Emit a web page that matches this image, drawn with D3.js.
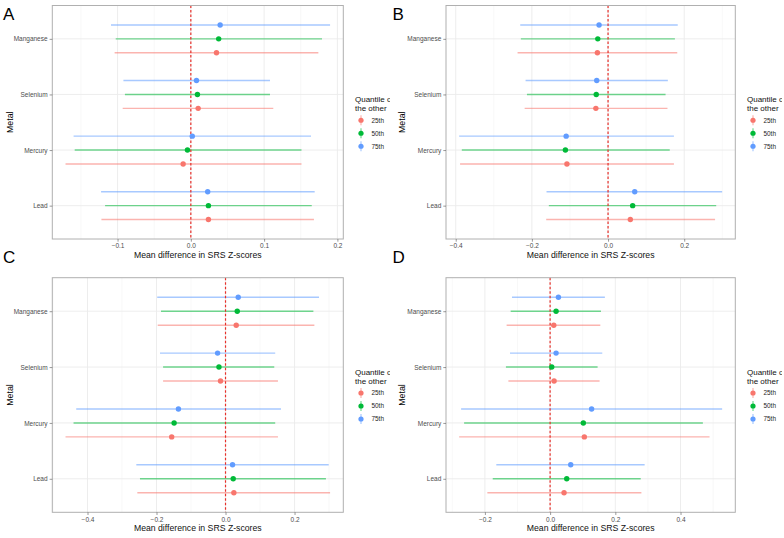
<!DOCTYPE html>
<html><head><meta charset="utf-8">
<script src="https://cdn.jsdelivr.net/npm/d3@7"></script>
<style>
html,body{margin:0;padding:0;background:#fff;}
svg{display:block;font-family:"Liberation Sans",Arial,Helvetica,sans-serif;}
</style></head>
<body>
<svg id="chart" width="784" height="538"></svg>
<script>
// Categories (bottom to top) and quantile groups
const metals = ["Lead", "Mercury", "Selenium", "Manganese"];
const quantiles = ["25th", "50th", "75th"];
const quantileColors = ["#F8766D", "#00BA38", "#619CFF"];
const panelLetters = ["A", "B", "C", "D"];

// Values ordered: Lead(25,50,75), Mercury(25,50,75), Selenium(25,50,75), Manganese(25,50,75)
const estA = [0.024, 0.024, 0.023, -0.0105, -0.0046, 0.002, 0.010, 0.009, 0.0077, 0.035, 0.038, 0.040];
const lowA = [-0.122, -0.117, -0.1225, -0.171, -0.1585, -0.160, -0.093, -0.090, -0.092, -0.104, -0.1025, -0.109];
const highA = [0.168, 0.165, 0.169, 0.151, 0.151, 0.164, 0.1125, 0.108, 0.108, 0.174, 0.179, 0.190];

const estB = [0.0585, 0.0646, 0.070, -0.108, -0.112, -0.110, -0.032, -0.031, -0.0297, -0.028, -0.027, -0.0236];
const lowB = [-0.1624, -0.1555, -0.1616, -0.3886, -0.384, -0.391, -0.219, -0.213, -0.2166, -0.2376, -0.229, -0.2306];
const highB = [0.281, 0.284, 0.2996, 0.173, 0.162, 0.173, 0.156, 0.151, 0.157, 0.1817, 0.1755, 0.183];

const estC = [0.0242, 0.0223, 0.0203, -0.156, -0.149, -0.1365, -0.0145, -0.019, -0.023, 0.031, 0.034, 0.0368];
const lowC = [-0.2556, -0.248, -0.2585, -0.4637, -0.4405, -0.4327, -0.181, -0.181, -0.190, -0.1965, -0.187, -0.198];
const highC = [0.303, 0.291, 0.299, 0.152, 0.144, 0.1607, 0.152, 0.1413, 0.144, 0.2575, 0.2546, 0.271];

const estD = [0.0428, 0.051, 0.0632, 0.105, 0.1019, 0.1273, 0.0122, 0.005, 0.0183, 0.0112, 0.0183, 0.0255];
const lowD = [-0.1925, -0.176, -0.165, -0.279, -0.2638, -0.273, -0.128, -0.1355, -0.123, -0.1334, -0.121, -0.117];
const highD = [0.280, 0.278, 0.290, 0.489, 0.4686, 0.5277, 0.1518, 0.1457, 0.160, 0.154, 0.156, 0.168];

const ticksA = [-0.1, 0.0, 0.1, 0.2];
const ticksB = [-0.4, -0.2, 0.0, 0.2];
const ticksC = [-0.4, -0.2, 0.0, 0.2];
const ticksD = [-0.2, 0.0, 0.2, 0.4];

const xTitle = "Mean difference in SRS Z-scores";
const yTitle = "Metal";
const legendTitle = ["Quantile of", "the other"];

// Layout
const panels = [
  {est: estA, low: lowA, high: highA, ticks: ticksA, ox: 0, oy: 0, x0: 52.3, x1: 343.3, y0: 5.5, y1: 239},
  {est: estB, low: lowB, high: highB, ticks: ticksB, ox: 392, oy: 0, x0: 54, x1: 343.3, y0: 5.5, y1: 239},
  {est: estC, low: lowC, high: highC, ticks: ticksC, ox: 0, oy: 269, x0: 52.3, x1: 343.3, y0: 8.7, y1: 243.3},
  {est: estD, low: lowD, high: highD, ticks: ticksD, ox: 392, oy: 269, x0: 54, x1: 343.3, y0: 8.7, y1: 243.3}
];

const svg = d3.select("#chart");
const defs = svg.append("defs");

panels.forEach((p, pi) => {
  const clipId = "clip" + pi;
  defs.append("clipPath").attr("id", clipId).append("rect")
    .attr("x", 0).attr("y", 0).attr("width", 390).attr("height", 269);

  const g = svg.append("g").attr("transform", `translate(${p.ox},${p.oy})`)
    .attr("clip-path", `url(#${clipId})`);

  const rows = [];
  metals.forEach((m, mi) => quantiles.forEach((q, qi) => {
    const k = mi * 3 + qi;
    rows.push({metal: m, q: q, qi: qi, est: p.est[k], low: p.low[k], high: p.high[k]});
  }));

  const mn = d3.min(rows, d => d.low), mx = d3.max(rows, d => d.high);
  const pad = (mx - mn) * 0.05;
  const x = d3.scaleLinear().domain([mn - pad, mx + pad]).range([p.x0, p.x1]);

  // discrete y with 0.6 expansion
  const y = d3.scalePoint().domain(metals.slice().reverse()).range([p.y0, p.y1]).padding(0.6);
  const dodge = (y.step()) * 0.25;
  const qOff = d3.scalePoint().domain(quantiles).range([dodge, -dodge]);

  // panel background
  g.append("rect").attr("x", p.x0).attr("y", p.y0).attr("width", p.x1 - p.x0).attr("height", p.y1 - p.y0)
    .attr("fill", "#fff");

  // minor gridlines
  const step = p.ticks[1] - p.ticks[0];
  const minors = [];
  for (let v = p.ticks[0] - step / 2; v <= x.domain()[1]; v += step) {
    if (v >= x.domain()[0]) minors.push(v);
  }
  g.append("g").selectAll("line").data(minors).join("line")
    .attr("x1", d => x(d)).attr("x2", d => x(d)).attr("y1", p.y0).attr("y2", p.y1)
    .attr("stroke", "#f3f3f3").attr("stroke-width", 0.6);
  // major gridlines
  g.append("g").selectAll("line").data(p.ticks).join("line")
    .attr("x1", d => x(d)).attr("x2", d => x(d)).attr("y1", p.y0).attr("y2", p.y1)
    .attr("stroke", "#ebebeb").attr("stroke-width", 0.9);
  g.append("g").selectAll("line").data(metals).join("line")
    .attr("x1", p.x0).attr("x2", p.x1).attr("y1", d => y(d)).attr("y2", d => y(d))
    .attr("stroke", "#ebebeb").attr("stroke-width", 0.9);

  // error bars
  g.append("g").selectAll("line").data(rows).join("line")
    .attr("x1", d => x(d.low)).attr("x2", d => x(d.high))
    .attr("y1", d => y(d.metal) + qOff(d.q)).attr("y2", d => y(d.metal) + qOff(d.q))
    .attr("stroke", d => quantileColors[d.qi]).attr("stroke-opacity", 0.55).attr("stroke-width", 1.4);

  // reference line at 0
  g.append("line").attr("x1", x(0)).attr("x2", x(0)).attr("y1", p.y0).attr("y2", p.y1)
    .attr("stroke", "#e8302a").attr("stroke-width", 1.2).attr("stroke-dasharray", "2.5,2");

  // points
  g.append("g").selectAll("circle").data(rows).join("circle")
    .attr("cx", d => x(d.est)).attr("cy", d => y(d.metal) + qOff(d.q)).attr("r", 2.7)
    .attr("fill", d => quantileColors[d.qi]);

  // panel border
  g.append("rect").attr("x", p.x0).attr("y", p.y0).attr("width", p.x1 - p.x0).attr("height", p.y1 - p.y0)
    .attr("fill", "none").attr("stroke", "#b0b0b0").attr("stroke-width", 1);

  // x axis
  const xa = g.append("g").attr("transform", `translate(0,${p.y1})`)
    .call(d3.axisBottom(x).tickValues(p.ticks).tickFormat(d3.format(".1f")).tickSize(2.7).tickPadding(2));
  xa.select(".domain").remove();
  xa.selectAll("line").attr("stroke", "#555").attr("stroke-width", 0.6);
  xa.selectAll("text").attr("fill", "#4d4d4d").attr("font-size", 6.5).attr("font-family", null);

  // y axis
  const ya = g.append("g").attr("transform", `translate(${p.x0},0)`)
    .call(d3.axisLeft(y).tickSize(2.7).tickPadding(2));
  ya.select(".domain").remove();
  ya.selectAll("line").attr("stroke", "#555").attr("stroke-width", 0.6);
  ya.selectAll("text").attr("fill", "#4d4d4d").attr("font-size", 6.5).attr("font-family", null);

  // axis titles
  g.append("text").attr("x", (p.x0 + p.x1) / 2).attr("y", p.y1 + 18.5)
    .attr("text-anchor", "middle").attr("font-size", 8.7).attr("fill", "#111").text(xTitle);
  g.append("text").attr("transform", `translate(13,${(p.y0 + p.y1) / 2}) rotate(-90)`)
    .attr("text-anchor", "middle").attr("font-size", 8.8).attr("fill", "#000").text(yTitle);

  // legend
  const cy = (p.y0 + p.y1) / 2;
  const lg = g.append("g");
  lg.selectAll("text.t").data(legendTitle).join("text").attr("class", "t")
    .attr("x", 355).attr("y", (d, i) => cy - 20 + i * 8.6)
    .attr("font-size", 8).attr("fill", "#111").text(d => d);
  const items = lg.selectAll("g.item").data(quantiles).join("g").attr("class", "item")
    .attr("transform", (d, i) => `translate(361,${cy - 2 + i * 13})`);
  items.append("line").attr("x1", 0).attr("x2", 0).attr("y1", -5).attr("y2", 5)
    .attr("stroke", (d, i) => quantileColors[i]).attr("stroke-opacity", 0.55).attr("stroke-width", 1.2);
  items.append("circle").attr("r", 2.6).attr("fill", (d, i) => quantileColors[i]);
  items.append("text").attr("x", 10.5).attr("y", 2.3).attr("font-size", 6.4).attr("fill", "#222").text(d => d);

  // panel letter
  svg.append("text").attr("x", p.ox + (pi % 2 === 0 ? 3 : 0.5)).attr("y", p.oy + (pi < 2 ? 19.5 : -6))
    .attr("font-size", 17).attr("fill", "#000").text(panelLetters[pi]);
});
</script>
</body></html>
